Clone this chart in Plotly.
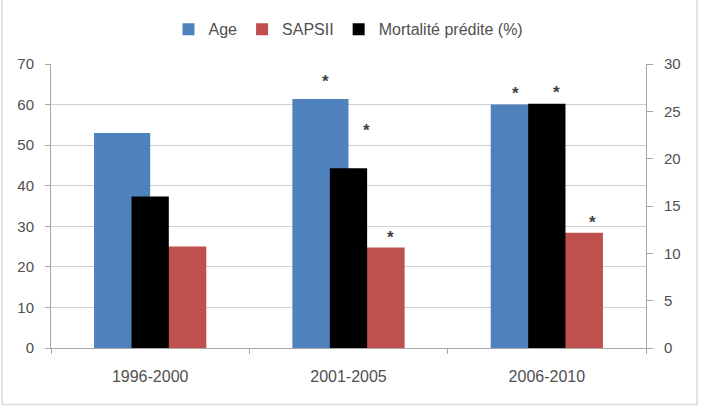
import plotly.graph_objects as go

categories = ["1996-2000", "2001-2005", "2006-2010"]
age = [53, 61.4, 60]
sapsii = [25, 24.8, 28.4]
mortalite = [16, 19, 25.8]

left_ticks = [0, 10, 20, 30, 40, 50, 60, 70]
right_ticks = [0, 5, 10, 15, 20, 25, 30]

# significance markers: (series, category index, x shift px, y shift px)
stars = [
    ("age", 1, -23, 22),
    ("mort", 1, 18, 43),
    ("sapsii", 1, 42, 15),
    ("age", 2, -31, 16),
    ("mort", 2, 10, 16),
    ("sapsii", 2, 46, 15),
]

BLUE = "#4F81BD"
RED = "#C0504D"
BLACK = "#000000"
GRID = "#D0D0D0"
AXIS = "#A6A6A6"
TXT = "#505050"
FONT = "Liberation Sans"

fig = go.Figure()
fig.add_trace(go.Bar(x=categories, y=age, name="Age", marker=dict(color=BLUE, line=dict(width=0)),
                     offset=-0.283, width=0.283, yaxis="y"))
fig.add_trace(go.Bar(x=categories, y=sapsii, name="SAPSII", marker=dict(color=RED, line=dict(width=0)),
                     offset=0.0, width=0.283, yaxis="y"))
fig.add_trace(go.Bar(x=categories, y=mortalite, name="Mortalité prédite (%)",
                     marker=dict(color=BLACK, line=dict(width=0)),
                     offset=-0.094, width=0.188, yaxis="y2"))

series = {"age": (age, "y"), "sapsii": (sapsii, "y"), "mort": (mortalite, "y2")}
for s, ci, xs, ys in stars:
    vals, yref = series[s]
    fig.add_annotation(x=ci, y=vals[ci], xref="x", yref=yref, text="<b>*</b>", showarrow=False,
                       xshift=xs, yshift=ys - 5, xanchor="center", yanchor="middle",
                       font=dict(family=FONT, size=17, color="#404040"))

# outer chart frame
W, H = 701, 411
L, R, T, B = 51, 55, 62, 63
pw, ph = W - L - R, H - T - B
def px_x(p):
    return (p - L) / pw
def px_y(p):
    return (H - B - p) / ph
fig.add_shape(type="rect", xref="paper", yref="paper",
              x0=px_x(2), x1=px_x(697), y0=px_y(405), y1=px_y(-5),
              line=dict(color="#D9D9D9", width=1.5), fillcolor="rgba(0,0,0,0)", layer="below")

fig.update_layout(
    width=W, height=H,
    margin=dict(l=L, r=R, t=T, b=B),
    paper_bgcolor="white", plot_bgcolor="white",
    barmode="overlay",
    font=dict(family=FONT, color=TXT),
    showlegend=True,
    legend=dict(orientation="h", x=0.5, xanchor="center", y=px_y(27), yanchor="middle",
                font=dict(family=FONT, size=16, color=TXT), itemwidth=30,
                bgcolor="rgba(0,0,0,0)"),
    xaxis=dict(type="category", showgrid=False, showline=True, linecolor=AXIS, linewidth=1,
               ticks="outside", tickson="boundaries", ticklen=5, tickcolor=AXIS,
               tickfont=dict(family=FONT, size=16, color=TXT), ticklabelstandoff=14,
               range=[-0.5, 2.5]),
    yaxis=dict(range=[0, 70], tickvals=left_ticks, showgrid=True, gridcolor=GRID, gridwidth=1,
               showline=True, linecolor=AXIS, linewidth=1, ticks="outside", ticklen=5,
               tickcolor=AXIS, tickfont=dict(family=FONT, size=15, color=TXT),
               ticklabelstandoff=8, zeroline=False),
    yaxis2=dict(range=[0, 30], tickvals=right_ticks, overlaying="y", side="right", showgrid=False,
                showline=True, linecolor=AXIS, linewidth=1, ticks="outside", ticklen=6,
                tickcolor=AXIS, tickfont=dict(family=FONT, size=15, color=TXT),
                ticklabelstandoff=8, zeroline=False),
)

fig.write_html("out.html")
